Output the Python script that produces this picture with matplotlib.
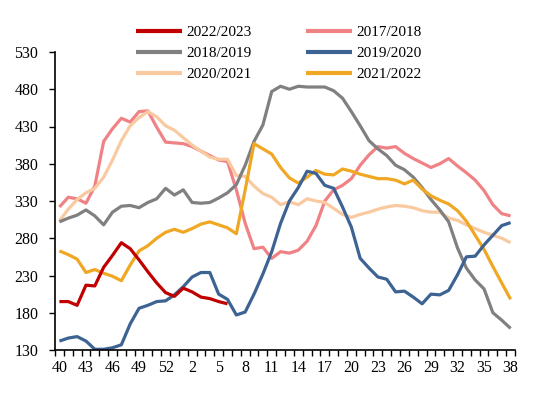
import matplotlib
matplotlib.use("Agg")
import matplotlib.pyplot as plt
import numpy as np

weeks = list(range(40, 54)) + list(range(1, 39))

s2022_2023 = [195, 195, 190, 217, 216, 241, 257, 274, 266, 251, 235, 220, 207, 202, 213, 208, 201, 199, 195, 192]
s2017_2018 = [322, 335, 333, 327, 350, 410, 427, 441, 436, 450, 451, 429, 409, 408, 407, 403, 397, 391, 385, 383,
              345, 300, 266, 268, 253, 262, 260, 264, 276, 297, 330, 345, 351, 360, 378, 392, 403, 401, 403, 394,
              387, 381, 375, 380, 387, 377, 368, 358, 344, 325, 313, 310]
s2018_2019 = [302, 307, 311, 318, 310, 298, 315, 323, 324, 321, 328, 333, 347, 338, 345, 328, 327, 328, 334, 341,
              352, 378, 410, 432, 477, 484, 480, 484, 483, 483, 483, 478, 468, 450, 431, 411, 400, 391, 378, 372,
              362, 348, 332, 318, 302, 267, 240, 224, 212, 180, 170, 159]
s2019_2020 = [142, 146, 148, 142, 131, 131, 133, 137, 165, 186, 190, 195, 196, 204, 215, 228, 234, 234, 205, 198,
              177, 181, 205, 232, 262, 300, 330, 348, 370, 367, 351, 347, 322, 295, 253, 240, 228, 225, 208, 209,
              201, 192, 205, 204, 210, 231, 255, 256, 271, 284, 297, 301]
s2020_2021 = [303, 319, 332, 341, 347, 362, 385, 411, 431, 442, 450, 443, 431, 425, 415, 405, 397, 389, 386, 386,
              364, 363, 350, 340, 335, 325, 329, 325, 333, 330, 328, 320, 312, 308, 312, 315, 319, 322, 324, 323,
              321, 317, 315, 315, 307, 304, 298, 293, 288, 284, 280, 274]
s2021_2022 = [263, 258, 252, 234, 238, 233, 229, 223, 244, 263, 270, 280, 288, 292, 288, 293, 299, 302, 298, 294,
              286, 345, 407, 400, 393, 375, 361, 354, 362, 371, 366, 365, 373, 370, 366, 363, 360, 360, 358, 353,
              358, 346, 337, 331, 326, 317, 303, 284, 265, 242, 220, 198]

yticks = [130, 180, 230, 280, 330, 380, 430, 480, 530]

colors = {
    "2022/2023": "#C00000",
    "2017/2018": "#F08285",
    "2018/2019": "#808080",
    "2019/2020": "#3D6393",
    "2020/2021": "#F9C9A0",
    "2021/2022": "#F0A824",
}

plt.rcParams['font.family'] = ['Liberation Serif', 'DejaVu Serif']

fig = plt.figure(figsize=(5.5, 3.93), dpi=100)
ax = fig.add_axes([55/550, 1 - 350/393, 460/550, (350 - 52)/393])

x = np.arange(len(weeks))

def pad(vals):
    arr = np.full(len(weeks), np.nan)
    arr[:len(vals)] = vals
    return arr

series = [
    ("2017/2018", s2017_2018),
    ("2020/2021", s2020_2021),
    ("2018/2019", s2018_2019),
    ("2021/2022", s2021_2022),
    ("2019/2020", s2019_2020),
    ("2022/2023", s2022_2023),
]
handles = {}
for name, vals in series:
    h, = ax.plot(x, pad(vals), color=colors[name], lw=2.3, label=name, solid_capstyle='butt')
    handles[name] = h

ax.set_xlim(-0.5, len(weeks) - 0.5)
ax.set_ylim(130, 530)
ax.set_yticks(yticks)
ax.set_xticks(x[::3])
ax.set_xticklabels([str(w) for w in weeks[::3]])
ax.set_xticks(np.arange(-0.5, len(weeks)), minor=True)
ax.tick_params(axis='x', which='major', length=0, pad=7, labelsize=11.5)
ax.tick_params(axis='x', which='minor', length=4, width=1, direction='out')
ax.tick_params(axis='y', length=4, width=1, direction='out', pad=8, labelsize=11.5)
for s in ['top', 'right']:
    ax.spines[s].set_visible(False)
for s in ['left', 'bottom']:
    ax.spines[s].set_linewidth(1.2)

order = ["2022/2023", "2018/2019", "2020/2021", "2017/2018", "2019/2020", "2021/2022"]
leg = fig.legend([handles[n] for n in order], order, ncol=2, frameon=False,
                 loc='upper left', bbox_to_anchor=(122/550, 1 - 12/393),
                 fontsize=11, handlelength=3.0, handletextpad=0.3, columnspacing=3.6,
                 labelspacing=0.48)
for line in leg.get_lines():
    line.set_linewidth(3)

fig.savefig("out.png", dpi=100)
